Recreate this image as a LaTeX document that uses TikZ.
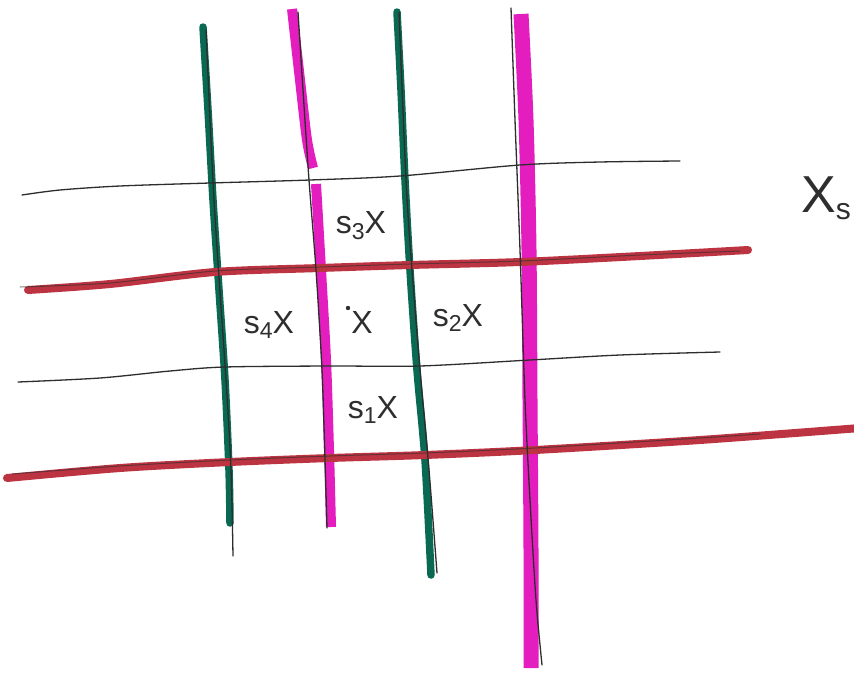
\documentclass[tikz,border=0pt]{standalone}
\usepackage{fontspec}
\setmainfont{Liberation Sans}
\definecolor{mkgreen}{RGB}{10,105,82}
\definecolor{mkmagenta}{RGB}{228,30,190}
\definecolor{mkred}{RGB}{188,52,66}
\definecolor{pencil}{RGB}{45,45,45}
\newcommand\lowsub[1]{\raisebox{-0.35ex}{\fontsize{23}{25}\selectfont #1}}
\newcommand\biglowsub[1]{\raisebox{-0.25ex}{\fontsize{30}{32}\selectfont #1}}
\tikzset{
  greenpen/.style={draw=mkgreen, line width=7.5pt, line cap=round, line join=round},
  magpen/.style={draw=mkmagenta, line width=10pt, line cap=butt, line join=round},
  magwide/.style={draw=mkmagenta, line width=15pt, line cap=butt, line join=round},
  redpen/.style={draw=mkred, line width=8pt, line cap=round, line join=round},
  pencilline/.style={draw=pencil, line width=1.3pt, line cap=round, line join=round},
  redpencil/.style={draw=pencil, line width=1pt, opacity=0.6, line cap=round, line join=round},
  lbl/.style={font=\fontsize{32}{36}\selectfont, text=black!82, inner sep=0pt},
  biglbl/.style={font=\fontsize{52}{56}\selectfont, text=black!82, inner sep=0pt}
}
\begin{document}
\begin{tikzpicture}[x=1pt,y=-1pt]
\useasboundingbox (0,0) rectangle (854,672);
\fill[white] (0,0) rectangle (854,672);
\clip (0,0) rectangle (854,672);

% coloured marker strokes
\draw[greenpen] plot[smooth] coordinates {(203,27) (208,110) (213,200) (219,290) (225,380) (229,470) (230,523)};
\draw[magpen] plot[smooth] coordinates {(292,9) (300,80) (307,140) (313,168)};
\draw[magpen] plot[smooth] coordinates {(316,184) (321,270) (326,360) (329,450) (331,527)};
\draw[greenpen] plot[smooth] coordinates {(397,12) (401,90) (405,180) (410,270) (417,370) (425,460) (431,575)};
\draw[magwide] plot[smooth] coordinates {(521,14) (526,120) (529,250) (530,400) (531,550) (531,668)};

\draw[redpen] plot[smooth] coordinates {(28,290) (110,284) (215,272) (320,268) (410,265) (520,262) (640,256) (748,250)};
\draw[redpen] plot[smooth] coordinates {(7,478) (120,468) (230,462) (330,458) (425,455) (535,450) (700,440) (860,428)};

% pencil lines
\draw[pencilline] plot[smooth] coordinates {(206,30) (214,200) (226,380) (231,470) (233,556)};
\draw[pencilline] plot[smooth] coordinates {(298,12) (303,90) (309,180) (316,270) (322,370) (325,460) (327,528)};
\draw[pencilline] plot[smooth] coordinates {(399,12) (406,180) (412,270) (420,370) (429,470) (437,573)};
\draw[pencilline] plot[smooth] coordinates {(511,8) (515,120) (520,250) (525,400) (530,500) (536,600) (542,665)};

\draw[pencilline] plot[smooth] coordinates {(22,195) (60,190) (120,186) (210,183) (310,180) (400,176) (520,165) (600,162) (680,161)};
\draw[redpencil] plot[smooth] coordinates {(20,287) (110,283) (215,271) (320,267) (410,264) (520,261) (640,255) (740,251)};
\draw[pencilline] plot[smooth] coordinates {(18,382) (100,378) (170,371) (225,367) (330,366) (420,366) (530,360) (620,355) (720,352)};
\draw[redpencil] plot[smooth] coordinates {(12,474) (120,466) (230,460) (330,456) (425,453) (535,448) (700,438) (760,434)};

% labels
\node[lbl] (s3x) at (361,226) {s\lowsub{3}X};
\node[lbl] (s4x) at (269,325) {s\lowsub{4}X};
\coordinate (xdot) at (348,308);
\fill[black!82] (xdot) circle (2.2pt);
\node[lbl] (x) at (362,322) {X};
\node[lbl] (s2x) at (458,318) {s\lowsub{2}X};
\node[lbl] (s1x) at (373,410) {s\lowsub{1}X};
\node[biglbl, anchor=east] (xs) at (851,198) {X\biglowsub{s}};
\end{tikzpicture}
\end{document}
